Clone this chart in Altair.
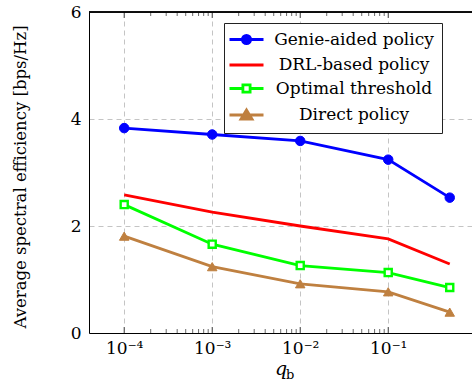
import altair as alt
import pandas as pd

# ---- data ----
q_values = [1e-4, 1e-3, 1e-2, 1e-1, 0.5]
genie = [3.83, 3.71, 3.59, 3.24, 2.53]
drl = [2.58, 2.26, 2.00, 1.76, 1.29]
optimal = [2.40, 1.66, 1.26, 1.13, 0.85]
direct = [1.81, 1.24, 0.92, 0.77, 0.39]

series_names = ["Genie-aided policy", "DRL-based policy", "Optimal threshold", "Direct policy"]
series_colors = ["#0000ff", "#ff0000", "#00ff00", "#bf8040"]
marker_fills = ["#0000ff", "#ffffff", "#ffffff", "#bf8040"]

x_tick_values = [1e-4, 1e-3, 1e-2, 1e-1]
x_tick_labels = ["10⁻⁴", "10⁻³", "10⁻²", "10⁻¹"]
y_tick_values = [0, 2, 4, 6]
minor_tick_values = [2e-4, 3e-4, 4e-4, 5e-4, 6e-4, 7e-4, 8e-4, 9e-4,
                     2e-3, 3e-3, 4e-3, 5e-3, 6e-3, 7e-3, 8e-3, 9e-3,
                     2e-2, 3e-2, 4e-2, 5e-2, 6e-2, 7e-2, 8e-2, 9e-2]

rows = []
for name, vals in zip(series_names, [genie, drl, optimal, direct]):
    for q, v in zip(q_values, vals):
        rows.append({"q": q, "v": v, "series": name})
df = pd.DataFrame(rows)
df_major = pd.DataFrame({"q": x_tick_values})
df_minor = pd.DataFrame({"q": minor_tick_values})

FONT = "DejaVu Serif"
W, H = 383, 321

x_scale = alt.Scale(type="log", domain=[10 ** -4.4, 10 ** -0.048])
y_scale = alt.Scale(domain=[0, 6], nice=False, zero=False)

label_expr = " : ".join(
    [f"datum.value < {v * 5} ? '{t}'" for v, t in zip(x_tick_values[:-1], x_tick_labels[:-1])]
) + f" : '{x_tick_labels[-1]}'"

x_axis = alt.Axis(values=x_tick_values, labelExpr=label_expr, grid=True,
                  gridDash=[5, 4], gridColor="#c4c4c4", gridWidth=1,
                  ticks=False, domainColor="black", domainWidth=1,
                  labelFont=FONT, labelFontSize=17, labelColor="black", labelPadding=7,
                  title="q", titleFont=FONT, titleFontSize=19, titleFontStyle="italic",
                  titleFontWeight="normal", titleColor="black", titlePadding=3)
y_axis = alt.Axis(values=y_tick_values, grid=True, gridDash=[5, 4], gridColor="#c4c4c4",
                  gridWidth=1, ticks=False, domainColor="black", domainWidth=1,
                  labelFont=FONT, labelFontSize=17, labelColor="black", labelPadding=8,
                  title="Average spectral efficiency [bps/Hz]", titleFont=FONT,
                  titleFontSize=16.5, titleFontWeight="normal", titleColor="black",
                  titleX=-69, titleY=H / 2 + 4, titleAngle=270, titleAlign="center",
                  titleBaseline="middle")

X = alt.X("q:Q", scale=x_scale, axis=x_axis)
Y = alt.Y("v:Q", scale=y_scale, axis=y_axis)

stroke_scale = alt.Scale(domain=series_names, range=series_colors)
fill_scale = alt.Scale(domain=series_names, range=marker_fills)

base = alt.Chart(df)

lines = base.mark_line(strokeWidth=2.8).encode(
    x=X, y=Y,
    stroke=alt.Stroke("series:N", scale=stroke_scale, legend=None),
)

marker_specs = [
    (series_names[0], "circle", 90, 1),
    (series_names[2], "square", 50, 2.4),
    (series_names[3], "triangle-up", 90, 1),
]
point_layers = []
for name, shp, sz, sw in marker_specs:
    point_layers.append(
        base.transform_filter(alt.datum.series == name)
        .mark_point(shape=shp, filled=True, size=sz, strokeWidth=sw, opacity=1)
        .encode(
            x=X, y=Y,
            fill=alt.Fill("series:N", scale=fill_scale, legend=None),
            stroke=alt.Stroke("series:N", scale=stroke_scale, legend=None),
        )
    )

# legend symbols: line + marker drawn as custom symbol paths
legend_paths = [
    "M-3.4,0H3.4M-0.82,0A0.82,0.82,0,1,1,0.82,0A0.82,0.82,0,1,1,-0.82,0Z",
    "M-3.4,0H3.4",
    "M-3.4,0H-0.72M0.72,0H3.4M-0.72,-0.72H0.72V0.72H-0.72Z",
    "M-3.4,0H3.4M0,-1.0L1.1,0.8L-1.1,0.8Z",
]
legend_layer = base.transform_filter("false").mark_point(
    filled=True, opacity=1, strokeWidth=2.8
).encode(
    x=X, y=Y,
    shape=alt.Shape("series:N", scale=alt.Scale(domain=series_names, range=legend_paths),
                    legend=alt.Legend(title=None)),
    fill=alt.Fill("series:N", scale=fill_scale, legend=alt.Legend(title=None)),
    stroke=alt.Stroke("series:N", scale=stroke_scale, legend=alt.Legend(title=None)),
)

major_ticks = alt.Chart(df_major).mark_rule(color="#444", strokeWidth=1).encode(
    x=alt.X("q:Q", scale=x_scale), y=alt.value(H), y2=alt.value(H - 6))
major_ticks_top = alt.Chart(df_major).mark_rule(color="#444", strokeWidth=1).encode(
    x=alt.X("q:Q", scale=x_scale), y=alt.value(0), y2=alt.value(6))
minor_ticks = alt.Chart(df_minor).mark_rule(color="#444", strokeWidth=0.8).encode(
    x=alt.X("q:Q", scale=x_scale), y=alt.value(H), y2=alt.value(H - 4))
minor_ticks_top = alt.Chart(df_minor).mark_rule(color="#444", strokeWidth=0.8).encode(
    x=alt.X("q:Q", scale=x_scale), y=alt.value(0), y2=alt.value(4))
top_border = alt.Chart(df_major).mark_rule(color="black", strokeWidth=1).encode(
    y=alt.value(0))
subscript = alt.Chart(df_major.head(1)).mark_text(
    text="b", font=FONT, fontSize=13, color="black", align="left", baseline="alphabetic"
).encode(x=alt.value(197), y=alt.value(367))

chart = alt.layer(
    lines, *point_layers, legend_layer, major_ticks, major_ticks_top,
    minor_ticks, minor_ticks_top, top_border, subscript
).resolve_legend(
    fill="independent", stroke="independent", shape="independent"
).properties(
    width=W, height=H,
    autosize=alt.AutoSizeParams(type="none"),
    padding={"left": 89, "top": 12, "right": 0, "bottom": 50},
).configure_view(stroke=None).configure(background="white", font=FONT).configure_legend(
    orient="none", legendX=135, legendY=11, padding=8,
    fillColor="white", strokeColor="#222", cornerRadius=0,
    labelFont=FONT, labelFontSize=17, labelColor="black", labelLimit=400,
    labelAlign="center",
    symbolSize=100, symbolStrokeWidth=2.8, symbolOffset=6, labelOffset=99,
    rowPadding=5.5,
)

chart.save("out.html", embed_options={"renderer": "svg", "actions": False})
